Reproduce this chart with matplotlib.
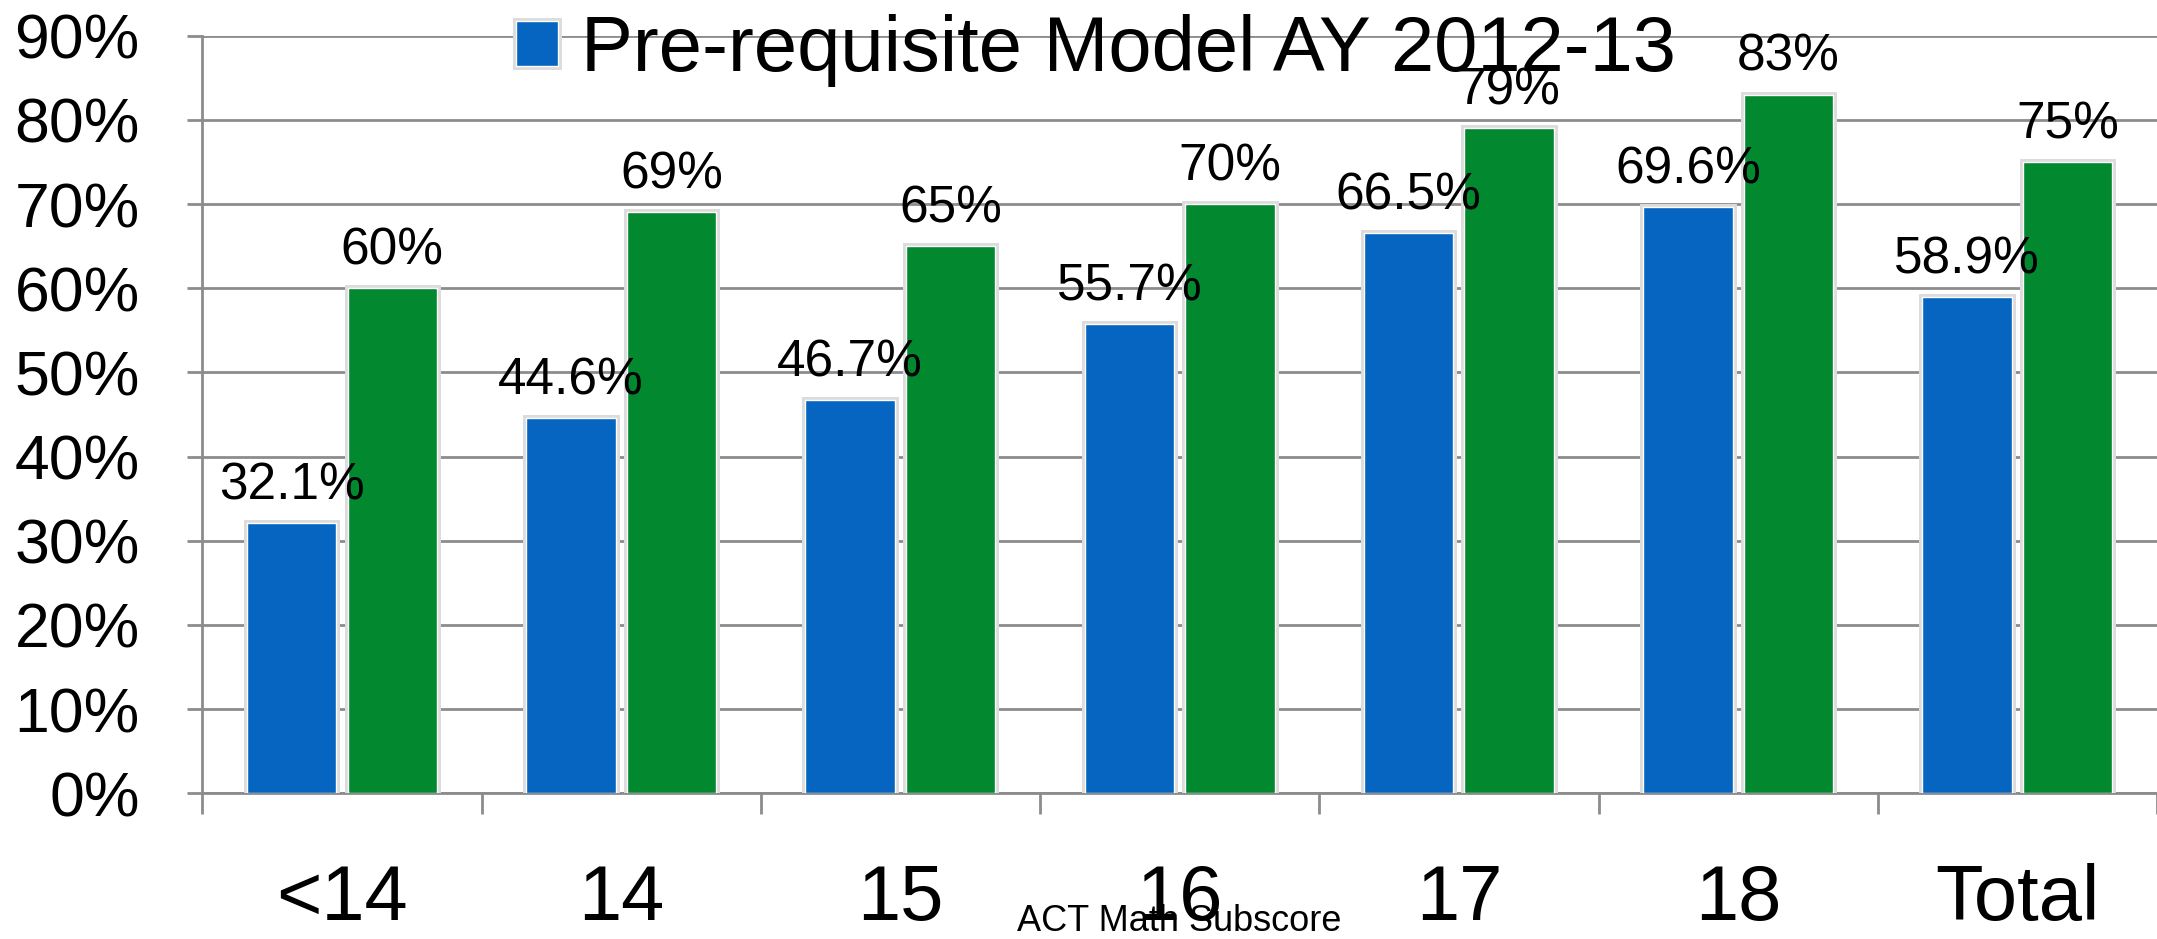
import matplotlib
matplotlib.use("Agg")
import matplotlib.pyplot as plt
import matplotlib.patheffects as pe
import numpy as np

categories = ["<14", "14", "15", "16", "17", "18", "Total"]
prereq_2012 = [32.1, 44.6, 46.7, 55.7, 66.5, 69.6, 58.9]
second_series = [60, 69, 65, 70, 79, 83, 75]
blue_labels = ["32.1%", "44.6%", "46.7%", "55.7%", "66.5%", "69.6%", "58.9%"]
green_labels = ["60%", "69%", "65%", "70%", "79%", "83%", "75%"]
legend_label = "Pre-requisite Model AY 2012-13"
x_label = "ACT Math Subscore"
y_ticks = [0, 10, 20, 30, 40, 50, 60, 70, 80, 90]

plt.rcParams['font.family'] = ['Liberation Sans', 'DejaVu Sans']

BLUE = "#0565C0"
GREEN = "#02882E"
GRID = "#8c8c8c"

fig = plt.figure(figsize=(21.57, 9.39), dpi=100)
ax = fig.add_axes([0.0938, 0.1552, 0.9062, 0.8068])

x = np.arange(len(categories))
w = 0.32
shadow = [pe.Stroke(linewidth=5, foreground="#dcdcdc"), pe.Normal()]
b1 = ax.bar(x - 0.18, prereq_2012, width=w, color=BLUE, edgecolor="white",
            linewidth=1.0, label=legend_label, zorder=3)
b2 = ax.bar(x + 0.18, second_series, width=w, color=GREEN, edgecolor="white",
            linewidth=1.0, zorder=3)
for p in list(b1) + list(b2):
    p.set_path_effects(shadow)

for xi, v, t in zip(x - 0.18, prereq_2012, blue_labels):
    ax.annotate(t, (xi, v), xytext=(0, 17), textcoords="offset points",
                ha="center", va="baseline", fontsize=37, color="black", zorder=5)
for xi, v, t in zip(x + 0.18, second_series, green_labels):
    ax.annotate(t, (xi, v), xytext=(0, 17), textcoords="offset points",
                ha="center", va="baseline", fontsize=37, color="black", zorder=5)

ax.set_xlim(-0.5, len(categories) - 0.5)
ax.set_ylim(0, 90)
ax.set_yticks(y_ticks)
ax.set_yticklabels([f"{t}%" for t in y_ticks], fontsize=45)
ax.yaxis.grid(True, color=GRID, linewidth=2, zorder=0)
ax.set_axisbelow(True)

ax.set_xticks(x)
ax.set_xticklabels(categories, fontsize=56)
ax.set_xticks(np.arange(len(categories) + 1) - 0.5, minor=True)
ax.tick_params(axis="x", which="major", length=0, pad=50)
ax.tick_params(axis="x", which="minor", length=15, width=2, color=GRID)
ax.tick_params(axis="y", length=11, width=2, color=GRID, pad=34)

for s in ["top", "right"]:
    ax.spines[s].set_visible(False)
ax.spines["left"].set_color(GRID)
ax.spines["left"].set_linewidth(2)
ax.spines["bottom"].set_color(GRID)
ax.spines["bottom"].set_linewidth(2)

fig.text(0.5465, 0.008, x_label, ha="center", va="baseline", fontsize=26)

leg = fig.legend(handles=[b1], labels=[legend_label], loc="center",
                 bbox_to_anchor=(0.508, 0.946), frameon=False, fontsize=56,
                 handlelength=0.54, handleheight=0.5, handletextpad=0.3,
                 borderpad=0, borderaxespad=0)

fig.savefig("out.png", dpi=100)
